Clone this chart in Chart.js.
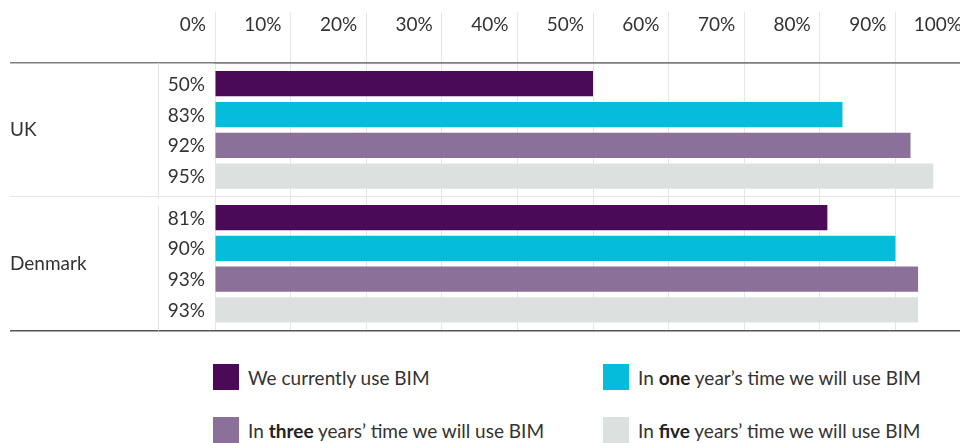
<!DOCTYPE html>
<html>
<head>
<meta charset="utf-8">
<script src="https://cdn.jsdelivr.net/npm/chart.js@4/dist/chart.umd.min.js"></script>
<style>
  html, body { margin: 0; padding: 0; background: #fff; overflow: hidden; }
  #wrap { position: relative; width: 990px; height: 443px; font-family: Lato, sans-serif; }
  #chartBox { position: absolute; left: 0; top: 0; width: 990px; height: 345px; }
  .legend-item { position: absolute; display: flex; align-items: center; font-size: 19px; color: #333; white-space: nowrap; }
  .legend-item .swatch { width: 26px; height: 26px; margin-right: 9px; flex: none; }
  .legend-item b { font-weight: 700; color: #222; }
</style>
</head>
<body>
<div id="wrap">
  <div id="chartBox"><canvas id="bim"></canvas></div>
  <div id="legend"></div>
</div>
<script>
// Countries on the y axis
const countries = ['UK', 'Denmark'];

// Share of respondents (%) per country
const currentUse = [50, 81];
const oneYear = [83, 90];
const threeYears = [92, 93];
const fiveYears = [95, 93];

// x axis
const tickValues = [0, 10, 20, 30, 40, 50, 60, 70, 80, 90, 100];

const seriesLabels = [
  'We currently use BIM',
  'In one year’s time we will use BIM',
  'In three years’ time we will use BIM',
  'In five years’ time we will use BIM'
];
const seriesBold = ['', 'one', 'three', 'five'];
const seriesColors = ['#4b0a57', '#05bcdb', '#8b7099', '#dce1df'];

const FONT = 'Lato';
const TEXT = '#333333';

// value labels to the left of every bar + the thin divider column
const sideLabels = {
  id: 'sideLabels',
  beforeDatasetsDraw(chart) {
    const { ctx, chartArea } = chart;
    ctx.save();
    ctx.strokeStyle = '#e2e6e6';
    ctx.lineWidth = 1;
    const mid = chart.scales.y.getPixelForValue(0.5);
    ctx.beginPath();
    ctx.moveTo(158.5, chartArea.top);
    ctx.lineTo(158.5, mid + 2);
    ctx.moveTo(158.5, mid + 9);
    ctx.lineTo(158.5, chartArea.bottom);
    ctx.stroke();
    ctx.restore();
  },
  afterDatasetsDraw(chart) {
    const { ctx } = chart;
    ctx.save();
    ctx.font = '19px ' + FONT;
    ctx.fillStyle = TEXT;
    ctx.textAlign = 'right';
    ctx.textBaseline = 'middle';
    chart.data.datasets.forEach((ds, i) => {
      chart.getDatasetMeta(i).data.forEach((bar, j) => {
        ctx.fillText(ds.data[j] + '%', 205, bar.y + 1);
      });
    });
    ctx.restore();
  }
};

const datasets = [currentUse, oneYear, threeYears, fiveYears].map((values, i) => ({
  label: seriesLabels[i],
  data: values,
  backgroundColor: seriesColors[i],
  borderWidth: 0,
  categoryPercentage: 0.92,
  barPercentage: 0.82
}));

const chart = new Chart(document.getElementById('bim'), {
  type: 'bar',
  data: { labels: countries, datasets: datasets },
  options: {
    indexAxis: 'y',
    responsive: true,
    maintainAspectRatio: false,
    animation: false,
    layout: { padding: { left: 10, right: 19, top: 0, bottom: 11 } },
    plugins: {
      legend: { display: false },
      tooltip: { enabled: false }
    },
    scales: {
      x: {
        position: 'top',
        min: 0,
        max: 100,
        afterBuildTicks: (scale) => { scale.ticks = tickValues.map(v => ({ value: v })); },
        afterFit: (scale) => { scale.height = 63; },
        ticks: {
          callback: (v) => v + '%',
          align: 'end',
          labelOffset: -9,
          padding: -24,
          maxRotation: 0,
          autoSkip: false,
          color: TEXT,
          font: { family: FONT, size: 19 }
        },
        grid: { color: '#e4e7e7', tickLength: 51, lineWidth: 1 },
        border: { color: '#7f7f7f', width: 1.5 }
      },
      y: {
        afterFit: (scale) => { scale.width = 205; },
        ticks: {
          crossAlign: 'far',
          color: TEXT,
          font: { family: FONT, size: 19 }
        },
        grid: {
          offset: true,
          tickLength: 205,
          color: (c) => c.index === 1 ? '#e2e6e6' : (c.index === 0 ? '#7f7f7f' : '#555555'),
          lineWidth: (c) => c.index === 1 ? 1 : 1.5
        },
        border: { display: false }
      }
    }
  },
  plugins: [sideLabels]
});

// legend: two columns, two rows, with the time span in bold
const legendPos = [[213, 364], [603, 364], [213, 417], [603, 417]];
const legendEl = document.getElementById('legend');
chart.data.datasets.forEach((ds, i) => {
  const item = document.createElement('div');
  item.className = 'legend-item';
  item.style.left = legendPos[i][0] + 'px';
  item.style.top = legendPos[i][1] + 'px';
  const sw = document.createElement('span');
  sw.className = 'swatch';
  sw.style.background = ds.backgroundColor;
  const txt = document.createElement('span');
  const b = seriesBold[i];
  if (b) {
    const k = ds.label.indexOf(b);
    txt.append(ds.label.slice(0, k));
    const strong = document.createElement('b');
    strong.textContent = b;
    txt.append(strong, ds.label.slice(k + b.length));
  } else {
    txt.textContent = ds.label;
  }
  item.append(sw, txt);
  legendEl.append(item);
});
</script>
</body>
</html>
